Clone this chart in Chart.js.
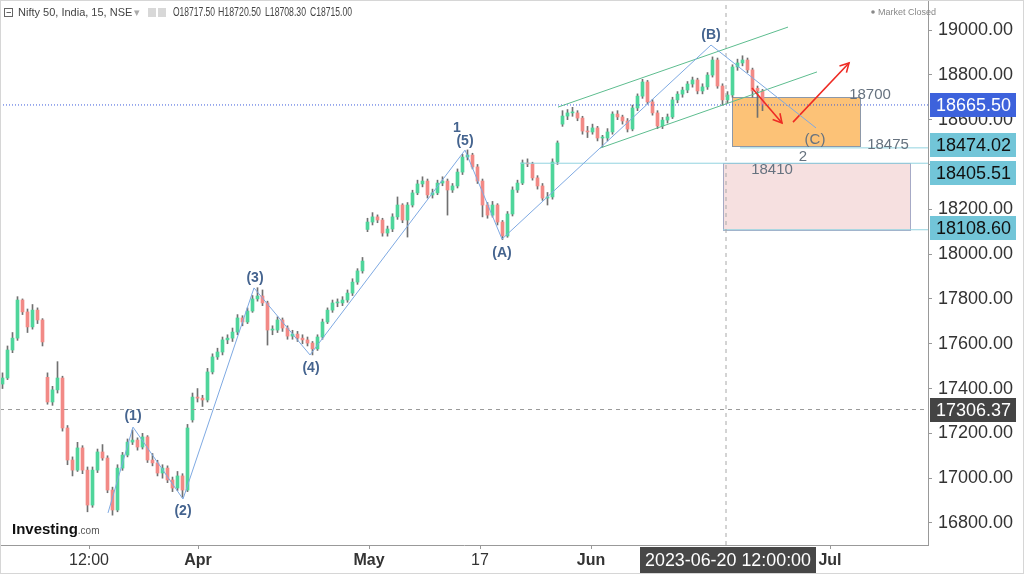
<!DOCTYPE html>
<html>
<head>
<meta charset="utf-8">
<script src="https://cdn.jsdelivr.net/npm/chart.js@4.4.1/dist/chart.umd.min.js"></script>
<style>
  html,body{margin:0;padding:0;background:#fff}
  canvas{display:block}
</style>
</head>
<body>
<canvas id="chart" width="1024" height="574"></canvas>
<script>
// candles (one every ~5px)
const opens = [17420,17447,17572,17625,17795,17742,17675,17750,17706,17450,
  17340,17394,17447,17224,17081,17036,17135,17036,16880,17036,
  17117,17090,16947,16858,17045,17103,17161,17170,17139,17184,
  17081,17068,17023,17045,16992,16956,17010,16947,17260,17362,
  17357,17349,17474,17541,17563,17617,17625,17652,17715,17697,
  17746,17800,17813,17782,17661,17661,17706,17670,17634,17643,
  17625,17617,17603,17577,17630,17697,17750,17782,17782,17795,
  17826,17875,17925,18110,18143,18166,18152,18094,18112,18166,
  18219,18152,18219,18273,18313,18326,18264,18273,18317,18326,
  18286,18304,18366,18433,18442,18389,18326,18219,18174,18219,
  18143,18081,18179,18286,18317,18407,18402,18340,18304,18250,
  18255,18411,18580,18616,18630,18630,18607,18549,18545,18563,
  18518,18518,18545,18625,18612,18594,18558,18652,18705,18768,
  18679,18630,18572,18598,18612,18688,18714,18732,18759,18777,
  18728,18746,18799,18866,18750,18688,18710,18835,18853,18866,
  18822,18740,18728];
const highs = [17470,17590,17650,17810,17800,17755,17775,17760,17712,17470,
  17410,17520,17455,17235,17095,17160,17145,17050,17050,17130,
  17150,17100,16960,17060,17115,17175,17215,17180,17200,17190,
  17110,17080,17060,17055,17005,17030,17020,17240,17380,17400,
  17370,17490,17555,17580,17630,17640,17670,17730,17725,17760,
  17815,17850,17840,17790,17680,17720,17715,17680,17660,17655,
  17640,17630,17610,17640,17710,17760,17795,17800,17810,17840,
  17890,17935,17985,18160,18185,18175,18160,18125,18180,18255,
  18225,18230,18285,18330,18345,18335,18290,18330,18345,18335,
  18315,18380,18445,18465,18450,18400,18335,18230,18235,18225,
  18150,18190,18300,18330,18420,18425,18410,18350,18315,18275,
  18425,18505,18640,18645,18655,18640,18615,18570,18580,18570,
  18530,18560,18635,18640,18620,18605,18665,18715,18780,18775,
  18690,18640,18610,18625,18700,18725,18745,18770,18790,18785,
  18760,18810,18880,18875,18760,18725,18845,18870,18885,18875,
  18830,18750,18735];
const lows = [17400,17440,17560,17615,17730,17650,17665,17690,17590,17330,
  17325,17380,17210,17060,17010,17030,17020,16850,16870,17025,
  17080,16935,16835,16850,17035,17095,17150,17125,17130,17070,
  17055,17010,17000,16980,16940,16945,16915,16940,17250,17340,
  17320,17340,17465,17530,17550,17600,17610,17640,17680,17690,
  17740,17790,17770,17594,17640,17650,17655,17620,17620,17610,
  17600,17590,17550,17570,17620,17690,17740,17765,17770,17785,
  17815,17865,17915,18100,18130,18140,18080,18080,18100,18155,
  18140,18076,18210,18265,18300,18250,18250,18265,18305,18174,
  18275,18295,18355,18420,18380,18315,18166,18160,18165,18130,
  18065,18075,18170,18275,18310,18390,18330,18290,18240,18219,
  18245,18400,18570,18600,18615,18595,18535,18520,18535,18505,
  18478,18505,18535,18600,18580,18545,18550,18640,18695,18670,
  18620,18560,18560,18585,18605,18675,18700,18720,18745,18715,
  18715,18735,18790,18740,18665,18675,18700,18820,18840,18810,
  18700,18610,18640];
const closes = [17447,17572,17625,17795,17742,17675,17750,17706,17608,17340,
  17394,17447,17224,17081,17036,17135,17036,16880,17036,17117,
  17090,16947,16858,17045,17103,17161,17170,17139,17184,17081,
  17068,17023,17045,16992,16956,17010,16947,17224,17362,17357,
  17349,17474,17541,17563,17617,17625,17652,17715,17697,17746,
  17800,17813,17782,17661,17661,17706,17670,17634,17643,17625,
  17617,17603,17577,17630,17697,17750,17782,17782,17795,17826,
  17875,17925,17969,18143,18166,18152,18094,18112,18166,18219,
  18152,18219,18273,18313,18326,18264,18273,18317,18326,18286,
  18304,18366,18433,18442,18389,18326,18219,18174,18219,18143,
  18081,18179,18286,18317,18407,18402,18340,18304,18250,18255,
  18411,18496,18616,18630,18630,18607,18549,18545,18563,18518,
  18518,18545,18625,18612,18594,18558,18652,18705,18768,18679,
  18630,18572,18598,18612,18688,18714,18732,18759,18777,18728,
  18746,18799,18866,18750,18688,18710,18835,18853,18866,18822,
  18728,18728,18665.5];

// x axis ticks (candle index) and their labels
const tickIdx = [17.3, 39.1, 73.3, 95.5, 117.7, 165.5];
const tickText = ["12:00", "Apr", "May", "17", "Jun", "Jul"];
const boldTicks = ["Apr", "May", "Jun", "Jul"];
const yTicks = [16800, 17000, 17200, 17400, 17600, 17800, 18000, 18200, 18400, 18600, 18800, 19000];

// elliott wave path
const waveIdx = [21.1, 26.1, 36.1, 50.3, 61.5, 92.5, 99.9, 141.7, 162.7];
const wavePrice = [16845, 17228, 16907, 17849, 17550, 18464, 18067, 18933, 18563];
// trend channel
const upperIdx = [111.1, 157.1], upperPrice = [18656, 19013];
const lowerIdx = [119.5, 162.9], lowerPrice = [18473, 18813];
// red arrows
const downIdx = [149.9, 155.9], downPrice = [18741, 18585];
const upIdx = [158.1, 169.3], upPrice = [18589, 18853];
// levels
const lastPrice = 18665.5, markPrice = 17306.37, crossIdx = 144.7;
const levelPrices = [18474.02, 18405.51, 18108.60];
const levelStart = [147.5, 103.5, 144.1];

const X_MIN = -0.5, X_MAX = 185.1, Y_MIN = 16701.8, Y_MAX = 19133.9;
const FONT = "'Liberation Sans', Arial, sans-serif";

const boxes = [
  { x0: 145.9, x1: 171.5, y0: 18700, y1: 18480, fill: "#fcc277", stroke: "#8d98a8" },
  { x0: 144.1, x1: 181.5, y0: 18405.51, y1: 18108.6, fill: "#f6e0e0", stroke: "#a6aac6" }
];
const waveLabels = [
  { t: "(1)", x: 26.1, y: 17277 }, { t: "(2)", x: 36.1, y: 16853 },
  { t: "(3)", x: 50.5, y: 17893 }, { t: "(4)", x: 61.7, y: 17492 },
  { t: "1", x: 90.9, y: 18560 }, { t: "(5)", x: 92.5, y: 18505 },
  { t: "(A)", x: 99.9, y: 18005 }, { t: "(B)", x: 141.7, y: 18978 }
];
const grayLabels = [
  { t: "18700", x: 173.5, y: 18712 }, { t: "18475", x: 177.1, y: 18487 },
  { t: "2", x: 160.1, y: 18433 }, { t: "18410", x: 153.9, y: 18375 },
  { t: "(C)", x: 162.5, y: 18509 }
];
const priceTags = [
  { v: lastPrice, bg: "#3d62dc", fg: "#fff", dy: 0 },
  { v: 18474.02, bg: "#72c5d8", fg: "#111", dy: -3 },
  { v: 18405.51, bg: "#72c5d8", fg: "#111", dy: 10 },
  { v: 18108.60, bg: "#72c5d8", fg: "#111", dy: -2 },
  { v: markPrice, bg: "#444", fg: "#fff", dy: 0 }
];

const pts = (xs, ys) => xs.map((v, i) => ({ x: v, y: ys[i] }));
const seg = (d, color, width, dash, order) => ({
  type: "line", data: d, borderColor: color, borderWidth: width, borderDash: dash || [],
  pointRadius: 0, fill: false, tension: 0, order: order
});

const overlay = {
  id: "overlay",
  beforeDatasetsDraw(chart) {
    const { ctx, scales: { x, y } } = chart;
    ctx.save();
    boxes.forEach(b => {
      const l = x.getPixelForValue(b.x0), r = x.getPixelForValue(b.x1);
      const t = y.getPixelForValue(b.y0), bt = y.getPixelForValue(b.y1);
      ctx.fillStyle = b.fill; ctx.fillRect(l, t, r - l, bt - t);
      ctx.strokeStyle = b.stroke; ctx.lineWidth = 1;
      ctx.strokeRect(Math.round(l) + .5, Math.round(t) + .5, Math.round(r - l), Math.round(bt - t));
    });
    ctx.restore();
  },
  afterDatasetsDraw(chart) {
    const { ctx, scales: { x, y } } = chart;
    ctx.save();
    // arrow heads
    [[downIdx, downPrice], [upIdx, upPrice]].forEach(([xs, ys]) => {
      const x0 = x.getPixelForValue(xs[0]), y0 = y.getPixelForValue(ys[0]);
      const x1 = x.getPixelForValue(xs[1]), y1 = y.getPixelForValue(ys[1]);
      const a = Math.atan2(y1 - y0, x1 - x0);
      ctx.strokeStyle = "#ee2b24"; ctx.lineWidth = 1.6;
      ctx.beginPath();
      ctx.moveTo(x1 - 10 * Math.cos(a - 0.5), y1 - 10 * Math.sin(a - 0.5));
      ctx.lineTo(x1, y1);
      ctx.lineTo(x1 - 10 * Math.cos(a + 0.5), y1 - 10 * Math.sin(a + 0.5));
      ctx.stroke();
    });
    ctx.textAlign = "center"; ctx.textBaseline = "middle";
    ctx.font = "bold 14px " + FONT; ctx.fillStyle = "#45648f";
    waveLabels.forEach(l => ctx.fillText(l.t, x.getPixelForValue(l.x), y.getPixelForValue(l.y)));
    ctx.font = "15px " + FONT; ctx.fillStyle = "#66727f";
    grayLabels.forEach(l => ctx.fillText(l.t, x.getPixelForValue(l.x), y.getPixelForValue(l.y)));
    ctx.restore();
  },
  afterDraw(chart) {
    const { ctx, scales: { y } } = chart;
    ctx.save();
    // the stacked tags hide the tick label between them
    const t1 = Math.round(y.getPixelForValue(priceTags[1].v)) + priceTags[1].dy;
    const t2 = Math.round(y.getPixelForValue(priceTags[2].v)) + priceTags[2].dy;
    ctx.fillStyle = "#fff"; ctx.fillRect(933, t1 + 12, 83, t2 - t1 - 24);
    // right axis price tags
    ctx.textBaseline = "middle"; ctx.textAlign = "left"; ctx.font = "18px " + FONT;
    priceTags.forEach(p => {
      const py = Math.round(y.getPixelForValue(p.v)) + p.dy;
      ctx.fillStyle = p.bg; ctx.fillRect(930, py - 12, 86, 24);
      ctx.fillStyle = p.fg; ctx.fillText(p.v.toFixed(2), 936, py + 1);
    });
    // crosshair date tag
    ctx.fillStyle = "#474747"; ctx.fillRect(640, 547, 176, 27);
    ctx.fillStyle = "#fff"; ctx.textAlign = "center"; ctx.font = "18px " + FONT;
    ctx.fillText("2023-06-20 12:00:00", 728, 561, 166);
    // header
    ctx.textAlign = "left"; ctx.fillStyle = "#444"; ctx.font = "11px " + FONT;
    ctx.strokeStyle = "#666"; ctx.lineWidth = 1;
    ctx.strokeRect(4.5, 8.5, 8, 8);
    ctx.beginPath(); ctx.moveTo(6.5, 12.5); ctx.lineTo(11, 12.5); ctx.stroke();
    ctx.fillText("Nifty 50, India, 15, NSE", 18, 13);
    ctx.fillStyle = "#aaa"; ctx.fillText("\u25BE", 134, 13);
    ctx.fillStyle = "#d8d8d8"; ctx.fillRect(148, 8, 8, 9); ctx.fillRect(158, 8, 8, 9);
    ctx.fillStyle = "#444"; ctx.font = "12px " + FONT;
    ctx.fillText("O18717.50", 173, 13, 42);
    ctx.fillText("H18720.50", 218, 13, 43);
    ctx.fillText("L18708.30", 265, 13, 41);
    ctx.fillText("C18715.00", 310, 13, 42);
    // market closed
    ctx.fillStyle = "#888"; ctx.beginPath(); ctx.arc(873, 12, 1.8, 0, Math.PI * 2); ctx.fill();
    ctx.font = "9px " + FONT; ctx.fillText("Market Closed", 878, 12.5);
    // logo
    ctx.fillStyle = "#111"; ctx.font = "bold 15px " + FONT; ctx.textBaseline = "alphabetic";
    ctx.fillText("Investing", 12, 534);
    const w = ctx.measureText("Investing").width;
    ctx.fillStyle = "#555"; ctx.font = "10px " + FONT; ctx.fillText(".com", 12 + w, 534);
    // frame
    ctx.strokeStyle = "#d6d6d6"; ctx.strokeRect(0.5, 0.5, 1023, 573);
    ctx.restore();
  }
};

const candleColors = closes.map((c, i) => c >= opens[i] ? "#4fd59b" : "#f28a86");

new Chart(document.getElementById("chart"), {
  type: "bar",
  data: {
    datasets: [
      seg(pts(waveIdx, wavePrice), "#7ea9e2", 1, null, 1),
      seg(pts(upperIdx, upperPrice), "#5dbd8f", 1, null, 2),
      seg(pts(lowerIdx, lowerPrice), "#5dbd8f", 1, null, 2),
      seg(pts(downIdx, downPrice), "#ee2b24", 1.6, null, 1),
      seg(pts(upIdx, upPrice), "#ee2b24", 1.6, null, 1),
      seg(pts([X_MIN, X_MAX], [lastPrice, lastPrice]), "#3b5bdb", 1, [1, 2], 3),
      seg(pts([X_MIN, X_MAX], [markPrice, markPrice]), "#9a9a9a", 1, [4, 4], 3),
      seg(pts([crossIdx, crossIdx], [Y_MIN, Y_MAX]), "#a8a8a8", 1, [4, 4], 3),
      ...levelPrices.map((p, i) => seg(pts([levelStart[i], X_MAX], [p, p]), "#92d3e0", 1, null, 3)),
      {
        label: "wick", data: lows.map((l, i) => ({ x: i, y: [l, highs[i]] })),
        backgroundColor: "#707070", barThickness: 1, grouped: false, order: 6
      },
      {
        label: "body", data: opens.map((o, i) => ({ x: i, y: [o, closes[i]] })),
        backgroundColor: candleColors, barThickness: 3, minBarLength: 1, grouped: false, order: 5
      }
    ]
  },
  options: {
    responsive: false,
    animation: false,
    devicePixelRatio: 1,
    layout: { padding: 0 },
    plugins: { legend: { display: false }, tooltip: { enabled: false } },
    scales: {
      x: {
        type: "linear", min: X_MIN, max: X_MAX, offset: false,
        afterBuildTicks: s => { s.ticks = tickIdx.map(v => ({ value: v })); },
        afterFit: s => { s.height = 29; s.paddingLeft = 0; s.paddingRight = 0; },
        grid: { drawOnChartArea: false, drawTicks: true, tickLength: 4, color: "#999", offset: false },
        border: { color: "#999" },
        ticks: {
          autoSkip: false, maxRotation: 0, padding: 2, color: "#333",
          callback: v => tickText[tickIdx.indexOf(v)],
          font: c => ({ family: FONT, size: 16,
            weight: c.tick && boldTicks.includes(tickText[tickIdx.indexOf(c.tick.value)]) ? "bold" : "normal" })
        }
      },
      y: {
        position: "right", min: Y_MIN, max: Y_MAX, offset: false,
        afterBuildTicks: s => { s.ticks = yTicks.map(v => ({ value: v })); },
        afterFit: s => { s.width = 96; s.paddingTop = 0; s.paddingBottom = 0; },
        grid: { drawOnChartArea: false, drawTicks: true, tickLength: 4, color: "#999" },
        border: { color: "#999" },
        ticks: { padding: 6, color: "#333", font: { family: FONT, size: 18 }, callback: v => v.toFixed(2) }
      }
    }
  },
  plugins: [overlay]
});
</script>
</body>
</html>
